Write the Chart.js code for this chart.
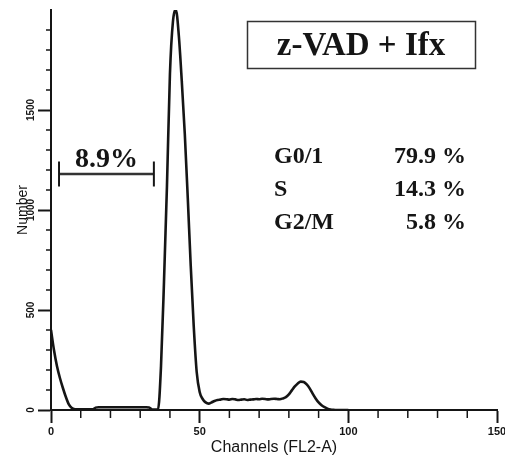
<!DOCTYPE html>
<html><head><meta charset="utf-8">
<script src="https://cdn.jsdelivr.net/npm/chart.js@4"></script>
<style>html,body{margin:0;padding:0;background:#fff;overflow:hidden}#wrap{width:505px;height:457px;position:relative}</style>
</head><body><div id="wrap"><canvas id="c" width="505" height="457"></canvas></div>
<script>
// Channel numbers (FL2-A) 0..100
const channels = [
  0,1,2,3,4,5,6,7,8,9,10,11,12,13,14,15,16,17,18,19,20,21,22,23,24,25,26,27,28,29,
  30,31,32,33,34,35,36,37,38,39,40,41,42,43,44,45,46,47,48,49,50,51,52,53,54,55,56,57,58,59,
  60,61,62,63,64,65,66,67,68,69,70,71,72,73,74,75,76,77,78,79,80,81,82,83,84,85,86,87,88,89,
  90,91,92,93,94,95,96,97,98,99,100
];
// Cell counts per channel
const counts = [
  400,300,220,160,110,65,28,10,4,3,3,3,3,3,3,12,14,14,14,14,14,14,14,14,14,14,14,14,14,14,
  14,14,14,13,3,2,3,220,640,1120,1680,1940,2000,1870,1640,1380,1060,720,420,190,90,55,38,32,38,45,50,52,55,54,
  52,55,53,50,52,54,50,52,53,55,54,56,55,53,55,56,55,54,58,64,78,98,118,133,142,140,128,108,82,58,
  38,24,14,7,3,1,0,0,0,0,0
];
const xTickValues = [0, 50, 100, 150];
const yTickValues = [0, 500, 1000, 1500];
const gateRange = [2.7, 34.6];
const gateLevel = 1180;
const gateLabel = '8.9%';
const titleText = 'z-VAD + Ifx';
const phaseNames = ['G0/1', 'S', 'G2/M'];
const phaseValues = ['79.9 %', '14.3 %', '5.8 %'];

const INK = '#151515';
const overlay = {
  id: 'overlay',
  afterDraw(chart) {
    const {ctx, scales: {x, y}, chartArea} = chart;
    ctx.save();
    ctx.strokeStyle = INK;
    ctx.lineWidth = 1.5;
    const line = (a, b, c, d) => { ctx.beginPath(); ctx.moveTo(a, b); ctx.lineTo(c, d); ctx.stroke(); };
    // minor ticks
    for (let v = 10; v < 150; v += 10) if (v % 50) {
      const px = x.getPixelForValue(v);
      line(px, chartArea.bottom, px, chartArea.bottom + 8);
    }
    for (let v = 100; v < 2000; v += 100) if (v % 500) {
      const py = y.getPixelForValue(v);
      line(chartArea.left - 5, py, chartArea.left, py);
    }
    // gate marker
    const gx1 = x.getPixelForValue(gateRange[0]);
    const gx2 = x.getPixelForValue(gateRange[1]);
    const gy = y.getPixelForValue(gateLevel);
    ctx.strokeStyle = '#333';
    ctx.lineWidth = 2.5;
    line(gx1, gy, gx2, gy);
    ctx.strokeStyle = INK;
    ctx.lineWidth = 2;
    line(gx1, gy - 12.5, gx1, gy + 12.5);
    line(gx2, gy - 12.5, gx2, gy + 12.5);
    ctx.fillStyle = INK;
    ctx.font = 'bold 28px "Liberation Serif"';
    ctx.textAlign = 'center';
    ctx.textBaseline = 'alphabetic';
    ctx.fillText(gateLabel, (gx1 + gx2) / 2, gy - 7);
    // title box
    ctx.strokeStyle = '#333';
    ctx.lineWidth = 1.5;
    ctx.strokeRect(247.5, 21.5, 228, 47);
    ctx.font = 'bold 33px "Liberation Serif"';
    ctx.fillText(titleText, 361, 55);
    // phase stats
    ctx.font = 'bold 24px "Liberation Serif"';
    phaseNames.forEach((n, i) => {
      const by = 163 + i * 33;
      ctx.textAlign = 'left';
      ctx.fillText(n, 274, by);
      ctx.textAlign = 'right';
      ctx.fillText(phaseValues[i], 466, by);
    });
    ctx.restore();
  }
};

new Chart(document.getElementById('c'), {
  type: 'line',
  data: {
    datasets: [{
      data: channels.map((c, i) => ({x: c, y: counts[i]})),
      borderColor: INK,
      borderWidth: 2.6,
      pointRadius: 0,
      cubicInterpolationMode: 'monotone',
      fill: false
    }]
  },
  options: {
    responsive: false,
    animation: false,
    devicePixelRatio: 1,
    layout: {padding: {top: 10, right: 8, left: 0, bottom: 0}},
    plugins: {legend: {display: false}, tooltip: {enabled: false}},
    scales: {
      x: {
        type: 'linear', min: 0, max: 150,
        afterBuildTicks: s => { s.ticks = xTickValues.map(v => ({value: v})); },
        ticks: {autoSkip: false, minRotation: 0, maxRotation: 0, padding: 2, color: INK,
          callback: v => String(v),
          font: {family: 'Liberation Sans', size: 11, weight: 'bold'}},
        grid: {drawOnChartArea: false, drawTicks: true, tickLength: 13, tickColor: INK, tickWidth: 2},
        border: {display: true, color: INK, width: 2},
        title: {display: true, text: 'Channels (FL2-A)', color: INK,
          font: {family: 'Liberation Sans', size: 16}, padding: {top: 0, bottom: 0}},
        afterFit: s => { s.height = 47; s.paddingLeft = 0; s.paddingRight = 0; }
      },
      y: {
        type: 'linear', min: 0, max: 2000,
        afterBuildTicks: s => { s.ticks = yTickValues.map(v => ({value: v})); },
        ticks: {minRotation: 90, maxRotation: 90, crossAlign: 'center', padding: -4, color: INK,
          callback: v => String(v),
          font: {family: 'Liberation Sans', size: 10, weight: 'bold'}},
        grid: {drawOnChartArea: false, drawTicks: true, tickLength: 13, tickColor: INK, tickWidth: 2},
        border: {display: true, color: INK, width: 2},
        title: {display: true, text: 'Number', color: INK,
          font: {family: 'Liberation Sans', size: 14}, padding: {top: 15, bottom: 0}},
        afterFit: s => { s.width = 51; s.paddingTop = 0; s.paddingBottom = 0; }
      }
    }
  },
  plugins: [overlay]
});
</script>
</body></html>
